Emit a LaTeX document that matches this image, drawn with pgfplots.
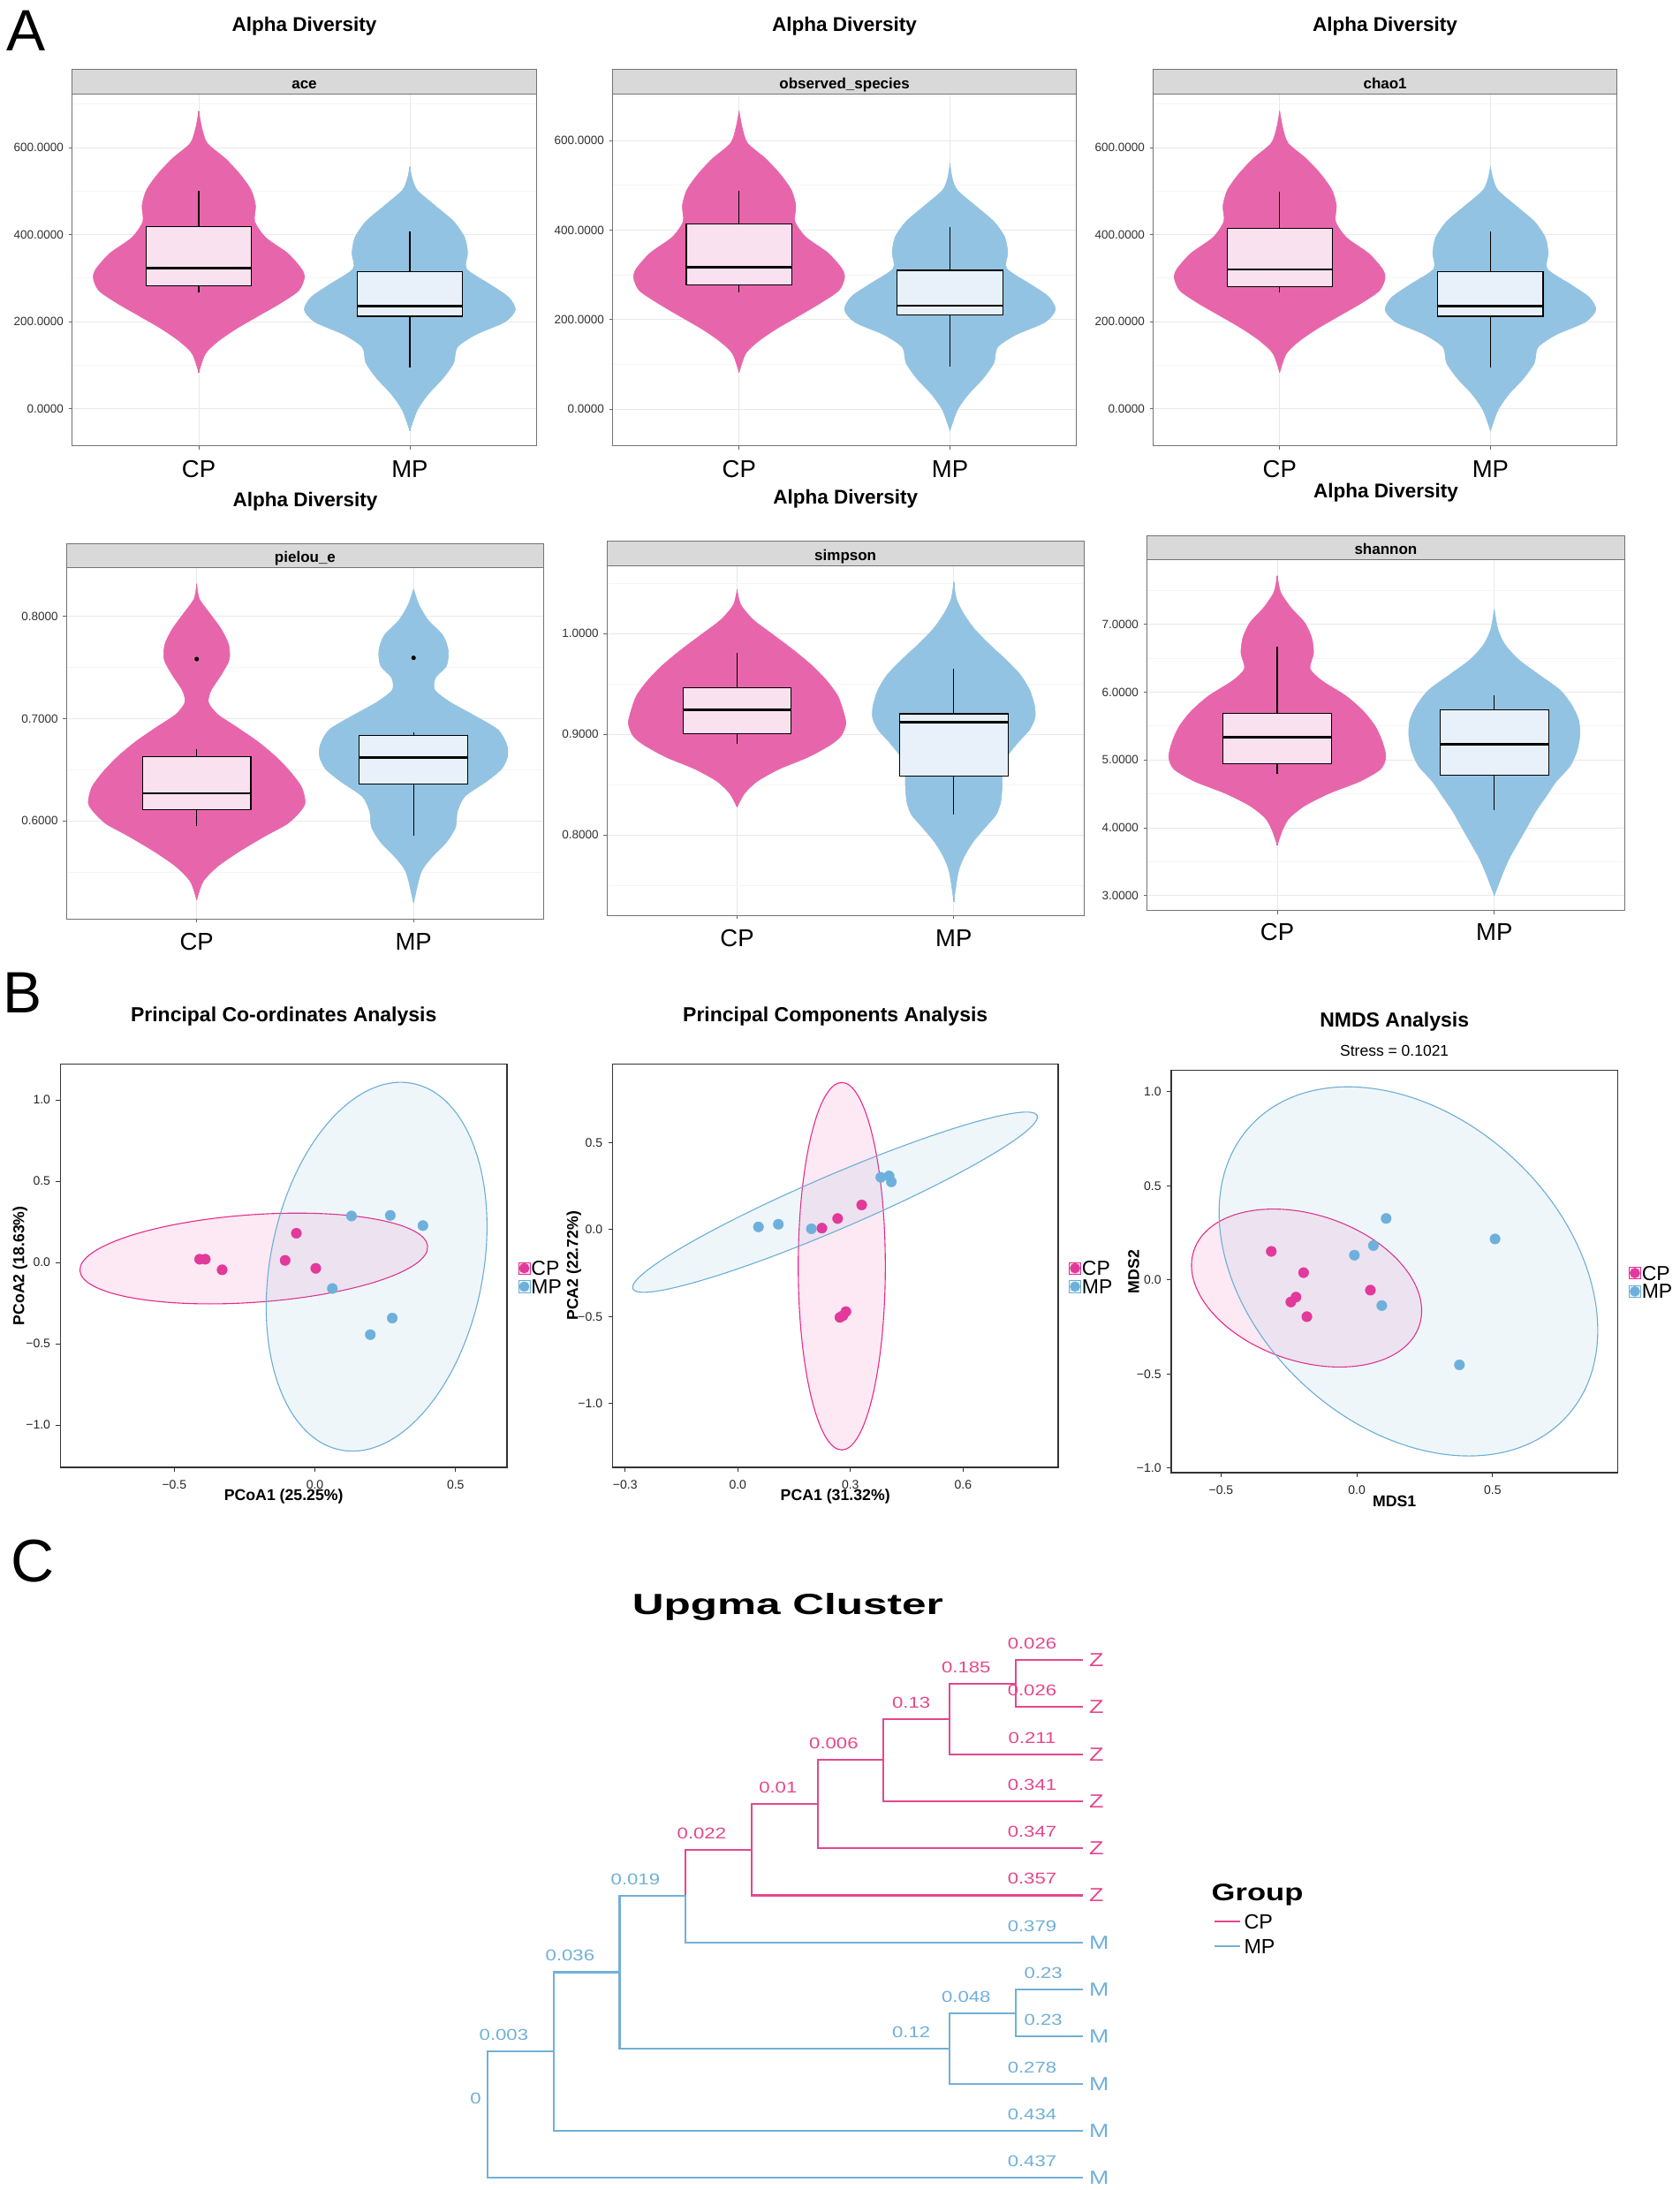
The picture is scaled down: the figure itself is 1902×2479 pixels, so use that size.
\documentclass[border=0pt]{standalone}
\usepackage{fontspec}
\setmainfont{Liberation Sans}
\newfontfamily\tfont[FakeStretch=1.25]{Liberation Sans}
\newfontfamily\hfont[FakeStretch=1.5]{Liberation Sans}
\newfontfamily\gfont[FakeStretch=1.28]{Liberation Sans}
\usepackage{pgfplots}
\usepackage{pgfplotstable}
\pgfplotsset{compat=1.18}
\newcommand{\fs}[1]{\fontsize{#1}{#1}\selectfont}

\definecolor{vpink}{HTML}{E766AB}
\definecolor{vblue}{HTML}{93C3E2}
\definecolor{bpink}{HTML}{F9E1EF}
\definecolor{bblue}{HTML}{E8F1F9}
\definecolor{dpink}{HTML}{E2399A}
\definecolor{dblue}{HTML}{6EB0DC}
\definecolor{epink}{HTML}{E7298A}
\definecolor{eblue}{HTML}{6BAED6}
\definecolor{tpink}{HTML}{E5478E}
\definecolor{tblue}{HTML}{71B0D8}

% ---------- violin outlines: y and half width ----------
\pgfplotstableread{
y w
83 0
126 0.031
155 0.092
184 0.179
213 0.282
242 0.386
271 0.473
300 0.500
321 0.487
357 0.421
393 0.317
430 0.265
466 0.269
502 0.248
538 0.196
574 0.127
610 0.040
646 0.014
684 0
}\vaceCP
\pgfplotstableread{
y w
-51 0
-4 0.035
33 0.087
69 0.156
105 0.208
141 0.225
170 0.312
199 0.450
227 0.500
256 0.468
285 0.381
321 0.269
357 0.274
393 0.260
430 0.208
466 0.121
502 0.035
531 0.010
556 0
}\vaceMP
\pgfplotstableread{
y w
82 0
124 0.031
152 0.092
180 0.179
208 0.282
237 0.386
265 0.473
293 0.500
314 0.487
349 0.421
384 0.317
419 0.265
454 0.269
489 0.248
524 0.196
559 0.127
594 0.040
630 0.014
666 0
}\vobsCP
\pgfplotstableread{
y w
-48 0
-2 0.035
33 0.087
68 0.156
103 0.208
138 0.225
166 0.312
194 0.450
222 0.500
251 0.468
279 0.381
314 0.269
349 0.274
384 0.260
419 0.208
454 0.121
489 0.035
517 0.010
549 0
}\vobsMP
\pgfplotstableread{
y w
0.5226 0
0.5405 0.029
0.5554 0.096
0.5702 0.197
0.5851 0.315
0.5970 0.417
0.6089 0.476
0.6179 0.500
0.6327 0.484
0.6476 0.433
0.6625 0.366
0.6774 0.282
0.6923 0.180
0.7042 0.096
0.7161 0.054
0.7280 0.067
0.7429 0.113
0.7577 0.150
0.7726 0.147
0.7875 0.113
0.8024 0.062
0.8173 0.012
0.8321 0
}\vpieCP
\pgfplotstableread{
y w
0.5196 0
0.5494 0.034
0.5643 0.084
0.5792 0.152
0.5940 0.194
0.6089 0.202
0.6238 0.236
0.6387 0.337
0.6506 0.405
0.6625 0.433
0.6744 0.430
0.6893 0.388
0.7042 0.270
0.7161 0.169
0.7280 0.098
0.7399 0.101
0.7518 0.152
0.7667 0.160
0.7815 0.135
0.7964 0.067
0.8113 0.025
0.8268 0
}\vpieMP
\pgfplotstableread{
y w
0.8275 0
0.8411 0.034
0.8532 0.093
0.8653 0.194
0.8773 0.329
0.8894 0.431
0.8985 0.481
0.9106 0.502
0.9227 0.490
0.9378 0.465
0.9529 0.414
0.9680 0.346
0.9831 0.262
0.9982 0.169
1.0133 0.076
1.0284 0.017
1.0435 0
}\vsimCP
\pgfplotstableread{
y w
0.7338 0
0.7625 0.020
0.7776 0.046
0.7927 0.088
0.8079 0.147
0.8199 0.195
0.8320 0.216
0.8471 0.223
0.8622 0.225
0.8773 0.245
0.8924 0.299
0.9045 0.350
0.9166 0.375
0.9287 0.372
0.9438 0.350
0.9589 0.307
0.9740 0.240
0.9891 0.164
1.0042 0.096
1.0193 0.046
1.0344 0.012
1.0511 0
}\vsimMP
\pgfplotstableread{
y w
3.742 0
3.966 0.024
4.146 0.056
4.326 0.127
4.506 0.238
4.685 0.381
4.865 0.476
5.045 0.500
5.270 0.484
5.494 0.452
5.719 0.397
5.944 0.317
6.169 0.206
6.348 0.151
6.573 0.167
6.798 0.159
7.022 0.127
7.247 0.063
7.472 0.016
7.719 0
}\vshaCP
\pgfplotstableread{
y w
3.000 0
3.337 0.040
3.562 0.071
3.787 0.111
4.011 0.151
4.236 0.190
4.461 0.238
4.685 0.286
4.910 0.349
5.135 0.381
5.360 0.394
5.584 0.389
5.809 0.357
6.034 0.302
6.258 0.206
6.483 0.111
6.708 0.048
6.933 0.016
7.225 0
}\vshaMP

\newcommand{\violin}[3]{%
  \addplot[fill=#3, draw=#3, line width=0.6pt, smooth, tension=0.45] table[x expr=#1+\thisrow{w}, y=y]{#2};
  \addplot[fill=#3, draw=#3, line width=0.6pt, smooth, tension=0.45] table[x expr=#1-\thisrow{w}, y=y]{#2};
  \addplot[draw=#3, line width=1.4pt] table[x expr=#1, y=y]{#2};
}
% box: left, centre, right, lower whisker, lower quartile, median, upper quartile, upper whisker, fill
\newcommand{\bx}[9]{%
  \addplot[black, line width=1.2pt] coordinates {(#2,#4) (#2,#5)};
  \addplot[black, line width=1.2pt] coordinates {(#2,#7) (#2,#8)};
  \addplot[fill=#9, draw=black, line width=1.2pt, line cap=rect, line join=miter] coordinates {(#1,#5) (#3,#5) (#3,#7) (#1,#7) (#1,#5)};
  \addplot[black, line width=2.6pt] coordinates {(#1,#6) (#3,#6)};
}
\newcommand{\stripbox}[5]{%
  \draw[fill=black!15, draw=black!55, line width=0.9pt] (#1,#3) rectangle (#2,#4);
  \node[anchor=base, inner sep=0pt, font=\bfseries\fs{17}] at ({(#1+#2)/2},{#4-6}) {#5};
}

\tikzset{
  cpe/.style={draw=epink, line width=1.1pt, fill=epink, fill opacity=0.1},
  mpe/.style={draw=eblue, line width=1.1pt, fill=eblue, fill opacity=0.1},
}
\pgfplotsset{
  vio/.style={
    scale only axis, anchor=south west,
    xmin=0.4, xmax=2.6, xtick={1,2}, xticklabels={CP,MP},
    axis line style={draw=black!55, line width=0.9pt},
    tick align=outside, tick pos=left, major tick length=4pt, minor tick length=0pt,
    tick style={draw=black!60, line width=0.9pt},
    grid=both,
    major grid style={draw=black!9, line width=0.9pt},
    minor grid style={draw=black!4, line width=0.9pt},
    xticklabel style={font=\fs{27.5}, anchor=base, yshift=-31.5pt, inner sep=0pt},
    yticklabel style={font=\fs{13.5}, text=black!80, anchor=east, inner sep=0pt, xshift=-5.5pt},
  },
  ord/.style={
    scale only axis, anchor=south west,
    axis line style={draw=black!80, line width=1.3pt},
    tick align=outside, tick pos=left, major tick length=5pt,
    tick style={draw=black!80, line width=1.1pt},
    xticklabel style={font=\fs{14}, text=black!85, anchor=north, inner sep=0pt, yshift=-9.5pt},
    yticklabel style={font=\fs{14}, text=black!85, anchor=east, inner sep=0pt, xshift=-6.2pt},
    legend style={draw=none, fill=none, inner sep=0pt, outer sep=0pt, row sep=0pt, anchor=west,
      font=\fs{23}, nodes={inner sep=0pt, text height=18.5pt, text depth=2.3pt}},
    legend cell align=left,
  },
  cpkey/.style={legend image code/.code={%
    \draw[epink, fill=epink!12, line width=0.9pt] (0pt,-6.6pt) rectangle (13.2pt,6.6pt);
    \fill[dpink] (6.6pt,0pt) circle (5.6pt); \path (14.3pt,0pt);}},
  mpkey/.style={legend image code/.code={%
    \draw[eblue, fill=eblue!12, line width=0.9pt] (0pt,-6.6pt) rectangle (13.2pt,6.6pt);
    \fill[dblue] (6.6pt,0pt) circle (5.6pt); \path (14.3pt,0pt);}},
  cpd/.style={only marks, mark=*, mark size=5.8pt, color=dpink, forget plot},
  mpd/.style={only marks, mark=*, mark size=5.8pt, color=dblue, forget plot},
  tree/.style={line width=2.1pt, line cap=rect, forget plot},
}

\begin{document}
\begin{tikzpicture}
\useasboundingbox (0pt,0pt) rectangle (1902pt,-2479pt);
\fill[white] (0pt,0pt) rectangle (1902pt,-2479pt);

% ================= A =================
\begin{axis}[vio, at={(81.7pt,-504.6pt)}, width=525.6pt, height=398.6pt,
  ymin=-85.5, ymax=723.9, ytick={0,200,400,600}, yticklabels={0.0000,200.0000,400.0000,600.0000}, minor ytick={100,300,500,700}]
\violin{1}{\vaceCP}{vpink}
\violin{2}{\vaceMP}{vblue}
\bx{0.75}{1}{1.25}{267}{282}{323}{418}{500}{bpink}
\bx{1.75}{2}{2.25}{95}{212}{235}{314}{408}{bblue}
\end{axis}

\begin{axis}[vio, at={(693.5pt,-504.6pt)}, width=525.2pt, height=398.6pt,
  ymin=-81.7, ymax=704.5, ytick={0,200,400,600}, yticklabels={0.0000,200.0000,400.0000,600.0000}, minor ytick={100,300,500,700}]
\violin{1}{\vobsCP}{vpink}
\violin{2}{\vobsMP}{vblue}
\bx{0.75}{1}{1.25}{261}{277}{317}{413}{487}{bpink}
\bx{1.75}{2}{2.25}{96}{210}{231}{310}{407}{bblue}
\end{axis}

\begin{axis}[vio, at={(1305.6pt,-504.6pt)}, width=525pt, height=398.6pt,
  ymin=-85.5, ymax=723.9, ytick={0,200,400,600}, yticklabels={0.0000,200.0000,400.0000,600.0000}, minor ytick={100,300,500,700}]
\violin{1}{\vaceCP}{vpink}
\violin{2}{\vaceMP}{vblue}
\bx{0.75}{1}{1.25}{267}{280}{320}{415}{498}{bpink}
\bx{1.75}{2}{2.25}{95}{212}{235}{314}{408}{bblue}
\end{axis}

\begin{axis}[vio, at={(75.4pt,-1040pt)}, width=540.1pt, height=397.4pt,
  ymin=0.5042, ymax=0.8477, ytick={0.6,0.7,0.8}, yticklabels={0.6000,0.7000,0.8000}, minor ytick={0.55,0.65,0.75}]
\violin{1}{\vpieCP}{vpink}
\violin{2}{\vpieMP}{vblue}
\bx{0.75}{1}{1.25}{0.5949}{0.6113}{0.6268}{0.6631}{0.6705}{bpink}
\bx{1.75}{2}{2.25}{0.5851}{0.6357}{0.6619}{0.6833}{0.6863}{bblue}
\addplot[only marks, mark=*, mark size=2.3pt, black] coordinates {(1,0.7583) (2,0.7595)};
\end{axis}

\begin{axis}[vio, at={(687.3pt,-1036pt)}, width=539.7pt, height=395.4pt,
  ymin=0.7202, ymax=1.067, ytick={0.8,0.9,1.0}, yticklabels={0.8000,0.9000,1.0000}, minor ytick={0.75,0.85,0.95,1.05}]
\violin{1}{\vsimCP}{vpink}
\violin{2}{\vsimMP}{vblue}
\bx{0.75}{1}{1.25}{0.8900}{0.9006}{0.9242}{0.9459}{0.9807}{bpink}
\bx{1.75}{2}{2.25}{0.8199}{0.8583}{0.9121}{0.9202}{0.9650}{bblue}
\end{axis}

\begin{axis}[vio, at={(1298.6pt,-1030.8pt)}, width=540.6pt, height=397.1pt,
  ymin=2.777, ymax=7.954, ytick={3,4,5,6,7}, yticklabels={3.0000,4.0000,5.0000,6.0000,7.0000}, minor ytick={3.5,4.5,5.5,6.5,7.5},
  xticklabel style={yshift=2pt}]
\violin{1}{\vshaCP}{vpink}
\violin{2}{\vshaMP}{vblue}
\bx{0.75}{1}{1.25}{4.789}{4.942}{5.337}{5.688}{6.676}{bpink}
\bx{1.75}{2}{2.25}{4.258}{4.775}{5.234}{5.742}{5.953}{bblue}
\end{axis}

% ================= B =================
\begin{axis}[ord, at={(68.4pt,-1661.1pt)}, width=505.6pt, height=456.7pt,
  xmin=-0.905, xmax=0.683, ymin=-1.261, ymax=1.221,
  xtick={-0.5,0,0.5}, xticklabels={−0.5,0.0,0.5},
  ytick={-1,-0.5,0,0.5,1}, yticklabels={−1.0,−0.5,0.0,0.5,1.0},
  legend style={at={(1.0247,0.471)}}]
\addlegendimage{cpkey}\addlegendentry{CP}
\addlegendimage{mpkey}\addlegendentry{MP}
\addplot[cpd] coordinates {(-0.41,0.02) (-0.39,0.02) (-0.33,-0.045) (-0.106,0.013) (-0.066,0.18) (0.003,-0.036)};
\addplot[mpd] coordinates {(0.13,0.286) (0.268,0.29) (0.384,0.227) (0.062,-0.16) (0.275,-0.342) (0.197,-0.444)};
\draw[cpe, rotate around={4:(axis cs:-0.2174,0.0245)}] (axis cs:-0.2174,0.0245) ellipse [x radius=197.3pt, y radius=49.6pt];
\draw[mpe, rotate around={78.9:(axis cs:0.2193,-0.026)}] (axis cs:0.2193,-0.026) ellipse [x radius=211.4pt, y radius=120.4pt];
\end{axis}

\begin{axis}[ord, at={(693.5pt,-1661.1pt)}, width=504.5pt, height=456.7pt,
  xmin=-0.3336, xmax=0.8534, ymin=-1.3675, ymax=0.951,
  xtick={-0.3,0,0.3,0.6}, xticklabels={−0.3,0.0,0.3,0.6},
  ytick={-1,-0.5,0,0.5}, yticklabels={−1.0,−0.5,0.0,0.5},
  legend style={at={(1.0238,0.471)}}]
\addlegendimage{cpkey}\addlegendentry{CP}
\addlegendimage{mpkey}\addlegendentry{MP}
\addplot[cpd] coordinates {(0.224,0.008) (0.266,0.063) (0.330,0.141) (0.272,-0.505) (0.280,-0.495) (0.288,-0.472)};
\addplot[mpd] coordinates {(0.055,0.015) (0.108,0.030) (0.196,0.004) (0.381,0.300) (0.403,0.308) (0.409,0.274)};
\draw[cpe] (axis cs:0.277,-0.211) ellipse [x radius=49.3pt, y radius=208pt];
\draw[mpe, rotate around={23.2:(axis cs:0.259,0.157)}] (axis cs:0.259,0.157) ellipse [x radius=249pt, y radius=30.5pt];
\end{axis}

\begin{axis}[ord, at={(1326pt,-1667pt)}, width=505.3pt, height=455.2pt,
  xmin=-0.6835, xmax=0.9603, ymin=-1.024, ymax=1.113,
  xtick={-0.5,0,0.5}, xticklabels={−0.5,0.0,0.5},
  ytick={-1,-0.5,0,0.5,1}, yticklabels={−1.0,−0.5,0.0,0.5,1.0},
  legend style={at={(1.0247,0.4736)}}]
\addlegendimage{cpkey}\addlegendentry{CP}
\addlegendimage{mpkey}\addlegendentry{MP}
\addplot[cpd] coordinates {(-0.315,0.152) (-0.196,0.039) (-0.243,-0.117) (-0.224,-0.091) (-0.184,-0.195) (0.050,-0.054)};
\addplot[mpd] coordinates {(0.108,0.327) (0.061,0.183) (-0.009,0.132) (0.092,-0.136) (0.509,0.218) (0.378,-0.451)};
\draw[cpe, rotate around={-18.4:(axis cs:-0.185,-0.0428)}] (axis cs:-0.185,-0.0428) ellipse [x radius=134.5pt, y radius=82.9pt];
\draw[mpe, rotate around={-42.7:(axis cs:0.19,0.0457)}] (axis cs:0.19,0.0457) ellipse [x radius=243.1pt, y radius=174.6pt];
\end{axis}

% ================= C =================
\begin{axis}[scale only axis, anchor=south west, at={(552pt,-2465.2pt)}, width=672.5pt, height=586.1pt,
  xmin=0, xmax=9, ymin=1, ymax=12, hide axis, clip=false,
  legend style={at={(1.2217,0.4715)}, anchor=west, draw=none, fill=none, inner sep=0pt, outer sep=0pt, row sep=0pt,
    font=\fs{23.3}, nodes={inner sep=0pt, text height=22.2pt, text depth=5.5pt}},
  legend cell align=left]
\addlegendimage{legend image code/.code={\draw[tpink, line width=2pt] (0pt,0pt) -- (29.2pt,0pt); \path (33.8pt,0pt);}}
\addlegendentry{CP}
\addlegendimage{legend image code/.code={\draw[tblue, line width=2pt] (0pt,0pt) -- (29.2pt,0pt); \path (33.8pt,0pt);}}
\addlegendentry{MP}
% pink clade
\addplot[tree, tpink] coordinates {(9,12) (8,12) (8,11) (9,11)};
\addplot[tree, tpink] coordinates {(8,11.5) (7,11.5) (7,10) (9,10)};
\addplot[tree, tpink] coordinates {(7,10.75) (6,10.75) (6,9) (9,9)};
\addplot[tree, tpink] coordinates {(6,9.875) (5,9.875) (5,8) (9,8)};
\addplot[tree, tpink] coordinates {(5,8.9375) (4,8.9375) (4,7) (9,7)};
\addplot[tree, tpink] coordinates {(4,7.96875) (3,7.96875) (3,6.984375)};
% blue part
\addplot[tree, tblue] coordinates {(3,6.984375) (3,6) (9,6)};
\addplot[tree, tblue] coordinates {(3,6.984375) (2,6.984375) (2,3.75) (7,3.75)};
\addplot[tree, tblue] coordinates {(7,4.5) (7,3) (9,3)};
\addplot[tree, tblue] coordinates {(7,4.5) (8,4.5)};
\addplot[tree, tblue] coordinates {(9,5) (8,5) (8,4) (9,4)};
\addplot[tree, tblue] coordinates {(2,5.3671875) (1,5.3671875) (1,2) (9,2)};
\addplot[tree, tblue] coordinates {(1,3.68359375) (0,3.68359375) (0,1) (9,1)};
% branch labels
\begin{scope}[every node/.style={font=\tfont\fs{17.7}, inner sep=0pt}]
\node[text=tpink] at (axis cs:8.25,12.35) {0.026};
\node[text=tpink] at (axis cs:8.25,11.35) {0.026};
\node[text=tpink] at (axis cs:7.25,11.85) {0.185};
\node[text=tpink] at (axis cs:8.25,10.35) {0.211};
\node[text=tpink] at (axis cs:6.42,11.10) {0.13};
\node[text=tpink] at (axis cs:8.25,9.35) {0.341};
\node[text=tpink] at (axis cs:5.245,10.225) {0.006};
\node[text=tpink] at (axis cs:8.25,8.35) {0.347};
\node[text=tpink] at (axis cs:4.40,9.2875) {0.01};
\node[text=tpink] at (axis cs:8.25,7.35) {0.357};
\node[text=tpink] at (axis cs:3.244,8.31875) {0.022};
\node[text=tblue] at (axis cs:2.24,7.334) {0.019};
\node[text=tblue] at (axis cs:8.25,6.35) {0.379};
\node[text=tblue] at (axis cs:1.25,5.717) {0.036};
\node[text=tblue] at (axis cs:8.42,5.35) {0.23};
\node[text=tblue] at (axis cs:7.25,4.85) {0.048};
\node[text=tblue] at (axis cs:8.42,4.35) {0.23};
\node[text=tblue] at (axis cs:6.42,4.10) {0.12};
\node[text=tblue] at (axis cs:8.25,3.35) {0.278};
\node[text=tblue] at (axis cs:8.25,2.35) {0.434};
\node[text=tblue] at (axis cs:0.246,4.034) {0.003};
\node[text=tblue] at (axis cs:8.25,1.35) {0.437};
\node[text=tblue] at (axis cs:-0.18,2.69) {0};
\end{scope}
\begin{scope}[every node/.style={font=\tfont\fs{21.5}, inner sep=0pt, anchor=west}]
\node[text=tpink] at (axis cs:9.114,12) {Z};
\node[text=tpink] at (axis cs:9.114,11) {Z};
\node[text=tpink] at (axis cs:9.114,10) {Z};
\node[text=tpink] at (axis cs:9.114,9) {Z};
\node[text=tpink] at (axis cs:9.114,8) {Z};
\node[text=tpink] at (axis cs:9.114,7) {Z};
\node[text=tblue] at (axis cs:9.114,6) {M};
\node[text=tblue] at (axis cs:9.114,5) {M};
\node[text=tblue] at (axis cs:9.114,4) {M};
\node[text=tblue] at (axis cs:9.114,3) {M};
\node[text=tblue] at (axis cs:9.114,2) {M};
\node[text=tblue] at (axis cs:9.114,1) {M};
\end{scope}
\end{axis}

% ================= text decorations =================
\begin{scope}[x=1pt,y=-1pt]
\node[anchor=base west, inner sep=0pt, font=\fs{66}] at (7,57) {A};
\node[anchor=base west, inner sep=0pt, font=\fs{66}] at (3.5,1146.3) {B};
\node[anchor=base west, inner sep=0pt, font=\fs{68}] at (12,1790) {C};

\node[anchor=base, inner sep=0pt, font=\bfseries\fs{22.5}] at (344.5,35.7) {Alpha Diversity};
\node[anchor=base, inner sep=0pt, font=\bfseries\fs{22.5}] at (956.1,35.7) {Alpha Diversity};
\node[anchor=base, inner sep=0pt, font=\bfseries\fs{22.5}] at (1568.1,35.7) {Alpha Diversity};
\node[anchor=base, inner sep=0pt, font=\bfseries\fs{22.5}] at (345.5,573.3) {Alpha Diversity};
\node[anchor=base, inner sep=0pt, font=\bfseries\fs{22.5}] at (957.2,570) {Alpha Diversity};
\node[anchor=base, inner sep=0pt, font=\bfseries\fs{22.5}] at (1568.9,563) {Alpha Diversity};

\stripbox{81.7}{607.3}{78.6}{106}{ace}
\stripbox{693.5}{1218.7}{78.6}{106}{observed\_species}
\stripbox{1305.6}{1830.6}{78.6}{106}{chao1}
\stripbox{75.4}{615.5}{615.8}{642.6}{pielou\_e}
\stripbox{687.3}{1227}{612.3}{640.6}{simpson}
\stripbox{1298.6}{1839.2}{606.5}{633.7}{shannon}

\node[anchor=base, inner sep=0pt, font=\bfseries\fs{23}] at (321.2,1156) {Principal Co-ordinates Analysis};
\node[anchor=base, inner sep=0pt, font=\bfseries\fs{23}] at (945.7,1156) {Principal Components Analysis};
\node[anchor=base, inner sep=0pt, font=\bfseries\fs{23}] at (1578.7,1162.8) {NMDS Analysis};
\node[anchor=base, inner sep=0pt, font=\fs{17.5}] at (1578.7,1195) {Stress = 0.1021};

\node[anchor=base, inner sep=0pt, font=\bfseries\fs{17.7}] at (321.2,1698) {PCoA1 (25.25\%)};
\node[anchor=base, inner sep=0pt, font=\bfseries\fs{17.7}, rotate=90] at (27.3,1432.8) {PCoA2 (18.63\%)};
\node[anchor=base, inner sep=0pt, font=\bfseries\fs{17.7}] at (945.7,1698.5) {PCA1 (31.32\%)};
\node[anchor=base, inner sep=0pt, font=\bfseries\fs{17.7}, rotate=90] at (654.3,1432.8) {PCA2 (22.72\%)};
\node[anchor=base, inner sep=0pt, font=\bfseries\fs{17.7}] at (1578.7,1705) {MDS1};
\node[anchor=base, inner sep=0pt, font=\bfseries\fs{17.7}, rotate=90] at (1289.5,1439.4) {MDS2};

\node[anchor=base, inner sep=0pt, font=\hfont\bfseries\fs{33}] at (892,1827) {Upgma Cluster};
\node[anchor=base west, inner sep=0pt, font=\gfont\bfseries\fs{27}] at (1371.5,2151) {Group};
\end{scope}
\end{tikzpicture}
\end{document}
